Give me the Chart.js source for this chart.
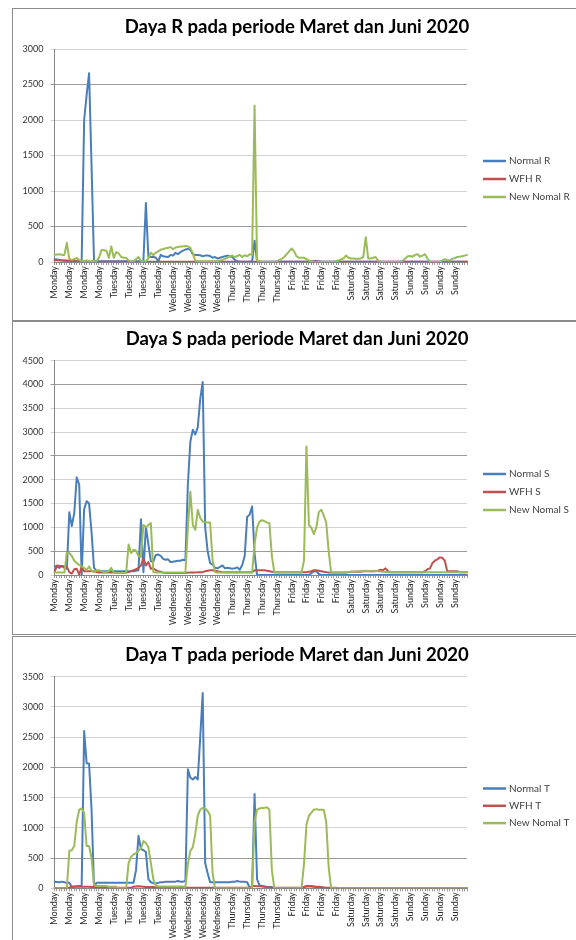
<!DOCTYPE html>
<html><head><meta charset="utf-8">
<script src="https://cdn.jsdelivr.net/npm/chart.js@4.4.1/dist/chart.umd.min.js"></script>
<style>
html,body{margin:0;padding:0;background:#fff;overflow:hidden;width:576px;height:940px;position:relative;}
.panel{position:absolute;left:12px;width:600px;border:1px solid #8c8c8c;box-sizing:border-box;}
canvas{position:absolute;left:0;}
</style></head>
<body>
<div class="panel" style="top:8px;height:313px"></div>
<div class="panel" style="top:321px;height:314px"></div>
<div class="panel" style="top:636px;height:320px"></div>
<canvas id="c1" width="594" height="312" style="top:8px"></canvas>
<canvas id="c2" width="594" height="314" style="top:320px"></canvas>
<canvas id="c3" width="594" height="304" style="top:636px"></canvas>
<script>
// ---- tick labels (one every 6 hourly points) ----
const dayTicks = ['Monday','Monday','Monday','Monday','Tuesday','Tuesday','Tuesday','Tuesday',
  'Wednesday','Wednesday','Wednesday','Wednesday','Thursday','Thursday','Thursday','Thursday',
  'Friday','Friday','Friday','Friday','Saturday','Saturday','Saturday','Saturday',
  'Sunday','Sunday','Sunday','Sunday'];
const pointsPerTick = 6;
const categories = [];
dayTicks.forEach(d => { for (let k = 0; k < pointsPerTick; k++) categories.push(d); });

// ---- Daya R ----
const normalR = [
 40,35,30,25,22,20,18,15,15,12,10,10,2000,2350,2660,1350,10,10,10,10,10,10,10,10,
 10,10,10,10,10,10,10,10,10,10,10,10,20,830,70,70,75,60,10,100,80,75,70,100,
 90,130,110,140,160,175,185,170,110,100,100,95,80,90,90,85,60,70,50,60,70,80,90,80,
 70,30,10,5,5,5,5,5,10,300,5,5,5,5,5,5,5,5,5,5,5,5,5,5,
 5,5,5,5,5,5,5,5,5,15,15,10,5,5,5,5,5,5,5,5,5,5,5,5,
 5,5,5,5,5,5,5,5,5,5,5,5,5,5,5,5,5,5,5,5,5,5,5,5,
 5,5,5,5,5,5,5,5,5,5,5,5,5,5,5,5,5,5,5,5,5,5,5,5];
const wfhR = [
 25,25,22,20,18,16,15,12,10,10,8,5,5,5,5,5,5,5,5,5,5,5,5,5,
 5,5,5,5,5,5,5,5,5,5,5,5,5,5,5,5,5,5,5,5,5,5,5,5,
 5,5,5,5,5,5,5,5,5,5,5,5,5,5,5,5,5,5,5,5,5,5,5,5,
 5,5,5,5,5,5,5,5,5,5,5,5,5,5,5,5,5,5,5,5,5,5,5,5,
 5,5,5,5,5,5,5,5,5,5,5,5,5,5,5,5,5,5,5,5,5,5,5,5,
 5,5,5,5,5,5,5,5,5,5,5,5,5,5,5,5,5,5,5,5,5,5,5,5,
 5,5,5,5,5,5,5,5,5,5,5,5,5,5,5,5,5,5,5,5,5,5,5,5];
const newNormalR = [
 100,105,110,100,100,270,40,30,40,55,30,10,10,20,10,10,15,10,60,170,165,160,60,220,
 60,140,120,70,60,60,20,10,10,40,70,10,10,10,50,130,100,130,150,175,180,195,200,210,
 180,205,210,220,220,225,220,200,120,20,10,10,10,10,10,10,10,10,10,20,30,45,60,80,
 90,70,85,100,70,95,80,110,100,2200,20,10,0,0,0,0,0,0,10,25,45,70,110,150,
 190,150,80,60,60,60,40,20,10,0,0,0,0,0,0,0,0,0,10,20,35,50,90,60,
 50,50,45,45,50,70,350,50,50,60,70,20,0,0,0,0,0,0,0,0,0,20,50,80,
 85,75,100,110,75,90,110,50,0,0,0,0,0,20,40,30,20,45,55,70,75,80,90,100];

// ---- Daya S ----
const normalS = [
 190,170,150,190,150,130,1320,1030,1300,2050,1900,0,1380,1550,1500,900,150,90,80,80,80,80,80,80,
 80,80,80,80,80,80,80,80,80,90,100,1170,60,1015,650,290,280,420,430,400,340,320,330,270,
 280,290,300,300,320,310,1900,2800,3050,2950,3100,3700,4050,1000,500,250,220,150,140,170,200,140,150,140,
 130,140,160,110,210,400,1220,1270,1440,450,0,0,0,0,0,0,0,0,0,0,0,0,0,0,
 0,0,0,0,0,0,0,0,40,80,80,20,0,0,0,0,0,0,0,0,0,0,0,0,
 0,0,0,0,0,0,0,0,0,0,0,0,0,0,0,0,0,0,0,0,0,0,0,0,
 0,0,0,0,0,0,0,0,0,0,0,0,0,0,0,0,0,0,0,0,0,0,0,0];
const wfhS = [
 60,200,190,190,180,170,60,30,120,130,10,170,80,80,80,80,80,60,50,50,50,50,50,50,
 50,50,50,50,50,50,60,80,100,120,150,200,350,200,270,130,140,100,80,70,50,40,40,40,
 40,40,40,40,40,40,50,50,50,50,60,60,60,80,90,100,100,90,80,70,60,60,60,60,
 60,60,60,60,60,60,60,60,60,100,100,100,100,100,90,80,70,60,60,60,60,60,60,60,
 60,60,60,60,60,60,60,70,80,100,100,90,80,70,60,50,50,50,50,50,50,50,50,60,
 70,70,70,70,70,80,80,80,80,80,80,90,110,100,140,80,60,60,60,60,60,60,60,60,
 60,60,60,60,60,60,80,120,140,250,300,330,370,360,300,80,80,80,80,80,60,60,60,60];
const newNormalS = [
 55,55,55,55,55,470,460,400,300,250,210,180,150,100,180,90,60,90,100,80,60,60,80,150,
 50,40,40,40,40,40,640,460,530,510,400,380,1050,1000,1050,1090,60,50,50,50,50,50,50,50,
 50,50,50,50,50,50,1000,1750,1050,950,1370,1200,1120,1110,1100,1100,300,60,50,50,50,50,50,50,
 50,50,50,50,50,50,50,50,50,650,1000,1120,1150,1130,1100,1090,400,50,50,50,50,50,50,50,
 50,50,50,50,50,300,2700,1050,990,860,1000,1320,1370,1250,1100,500,50,55,55,55,55,55,55,60,
 70,70,75,80,80,85,90,85,80,80,90,80,75,70,65,60,60,60,60,60,60,60,60,60,
 60,60,60,60,60,60,60,60,60,60,60,60,60,60,60,60,60,60,60,60,60,60,60,60];

// ---- Daya T ----
const normalT = [
 110,105,100,110,100,90,90,20,30,35,40,40,2600,2070,2060,1300,20,90,90,90,90,90,90,90,
 90,90,90,90,90,90,90,90,90,300,870,650,630,600,150,100,85,80,90,100,100,110,110,110,
 110,110,120,110,110,120,1970,1830,1800,1840,1800,2500,3230,420,250,100,100,100,100,100,100,100,100,100,
 110,110,120,110,110,110,100,10,30,1560,150,50,40,30,20,20,20,0,0,0,0,0,0,0,
 0,0,0,0,0,20,40,40,40,30,20,10,0,0,0,0,0,0,0,0,0,0,0,0,
 0,0,0,0,0,0,0,0,0,0,0,0,0,0,0,0,0,0,0,0,0,0,0,0,
 0,0,0,0,0,0,0,0,0,0,0,0,0,0,0,0,0,0,0,0,0,0,0,0];
const wfhT = [
 5,5,5,5,5,5,10,25,25,25,25,25,25,25,25,20,20,15,10,10,10,10,10,10,
 10,10,10,10,10,10,10,10,25,30,35,30,25,20,20,20,20,15,10,10,10,10,10,10,
 10,10,10,10,10,10,10,10,10,10,10,10,10,10,10,10,10,10,10,10,10,10,10,10,
 10,10,10,10,10,10,10,10,30,40,35,35,30,25,20,10,10,10,10,10,10,10,10,10,
 10,10,10,10,10,20,30,30,30,25,25,25,20,15,10,10,10,10,10,5,5,5,5,5,
 5,5,5,5,5,5,5,5,5,5,5,5,5,5,5,5,5,5,5,5,5,5,5,5,
 5,5,5,5,5,5,5,5,5,5,5,5,5,5,5,5,5,5,5,5,5,5,5,5];
const newNormalT = [
 0,0,0,0,0,0,620,630,700,1100,1300,1320,1250,700,700,500,50,40,40,40,40,40,25,25,
 25,25,0,0,0,0,420,520,560,580,620,660,780,750,680,420,150,50,30,30,30,30,30,30,
 30,30,30,30,30,20,400,620,680,900,1200,1300,1330,1320,1280,1200,250,0,0,0,0,0,0,0,
 0,0,0,0,0,0,0,0,0,1100,1300,1320,1330,1330,1340,1300,300,0,0,0,0,0,0,0,
 0,0,0,0,0,400,1050,1200,1250,1300,1310,1300,1300,1300,1100,350,0,0,0,0,0,0,0,0,
 0,0,0,0,0,0,0,0,0,0,0,0,0,0,0,0,0,0,0,0,0,0,0,0,
 0,0,0,0,0,0,0,0,0,0,0,0,0,0,0,0,0,0,0,0,0,0,0,0];

const BLUE = '#4a7ebb', RED = '#c0504d', GREEN = '#9bbb59';

const sideLegend = {
  id: 'sideLegend',
  afterDraw(chart, args, opts) {
    const ctx = chart.ctx;
    ctx.save();
    chart.data.datasets.forEach((ds, k) => {
      const y = opts.y + k * opts.gap;
      ctx.strokeStyle = ds.borderColor;
      ctx.lineWidth = 2.5;
      ctx.beginPath(); ctx.moveTo(opts.x, y); ctx.lineTo(opts.x + 23, y); ctx.stroke();
      ctx.fillStyle = '#404040';
      ctx.font = '10px Lato, "Open Sans", sans-serif';
      ctx.textBaseline = 'middle';
      ctx.textAlign = 'left';
      ctx.fillText(ds.label, opts.x + 26, y);
    });
    ctx.restore();
  }
};

function makeChart(id, cfg) {
  const ds = (label, data, color, order) => ({
    label, data, borderColor: color, backgroundColor: color, borderWidth: 2,
    pointRadius: 0, tension: 0, order, borderJoinStyle: 'round', borderCapStyle: 'round', fill: false
  });
  return new Chart(document.getElementById(id), {
    type: 'line',
    data: {
      labels: categories,
      datasets: [
        ds(cfg.names[0], cfg.series[0], BLUE, 2),
        ds(cfg.names[1], cfg.series[1], RED, 1),
        ds(cfg.names[2], cfg.series[2], GREEN, 0)
      ]
    },
    options: {
      responsive: false,
      animation: false,
      events: [],
      layout: { padding: 0, autoPadding: false },
      plugins: {
        legend: { display: false },
        tooltip: { enabled: false },
        title: {
          display: true, text: cfg.title, color: '#000',
          font: { size: 18.5, weight: 'bold' },
          padding: { top: 8, bottom: cfg.titleBottom }
        },
        sideLegend: { x: 483, y: cfg.legendY, gap: cfg.legendGap }
      },
      scales: {
        x: {
          type: 'category',
          offset: false,
          grid: { display: true, drawOnChartArea: false, drawTicks: true, tickLength: 3, color: '#9a9a9a' },
          border: { display: true, color: '#868686', width: 1 },
          ticks: {
            autoSkip: false, maxRotation: 90, minRotation: 90, padding: 1,
            color: '#262626', font: { size: 9 },
            callback: (v, i) => (i % pointsPerTick === 0 ? categories[i] : '')
          },
          afterFit: s => { s.height = cfg.xHeight; }
        },
        y: {
          position: 'left', min: 0, max: cfg.max,
          ticks: { stepSize: 500, padding: 7, color: '#333', font: { size: 9 },
                   callback: v => String(v) },
          grid: {
            drawTicks: true, tickLength: 4,
            color: c => (cfg.dark.includes(c.tick.value) ? '#9a9a9a' : '#d2d2d2')
          },
          border: { display: true, color: '#868686', width: 1 },
          afterFit: s => { s.width = 54.5; }
        },
        yR: {
          position: 'right', display: true,
          grid: { display: false }, ticks: { display: false }, border: { display: false },
          afterFit: s => { s.width = 127; }
        }
      }
    },
    plugins: [sideLegend]
  });
}

function drawAll() {
  Chart.defaults.font.family = 'Lato, "Open Sans", sans-serif';
  makeChart('c1', {
    title: 'Daya R pada periode Maret dan Juni 2020',
    names: ['Normal R', 'WFH R', 'New Nomal R'],
    series: [normalR, wfhR, newNormalR],
    max: 3000, dark: [2500, 500], titleBottom: 10.8, xHeight: 58, legendY: 153, legendGap: 18
  });
  makeChart('c2', {
    title: 'Daya S pada periode Maret dan Juni 2020',
    names: ['Normal S', 'WFH S', 'New Nomal S'],
    series: [normalS, wfhS, newNormalS],
    max: 4500, dark: [4000, 2500, 500], titleBottom: 10.5, xHeight: 59, legendY: 154, legendGap: 18
  });
  makeChart('c3', {
    title: 'Daya T pada periode Maret dan Juni 2020',
    names: ['Normal T', 'WFH T', 'New Nomal T'],
    series: [normalT, wfhT, newNormalT],
    max: 3500, dark: [2000, 500], titleBottom: 10.5, xHeight: 51.7, legendY: 152.5, legendGap: 17.3
  });
}

Promise.all([
  document.fonts.load('bold 18px Lato'),
  document.fonts.load('10px Lato')
]).then(drawAll, drawAll);
</script>
</body></html>
